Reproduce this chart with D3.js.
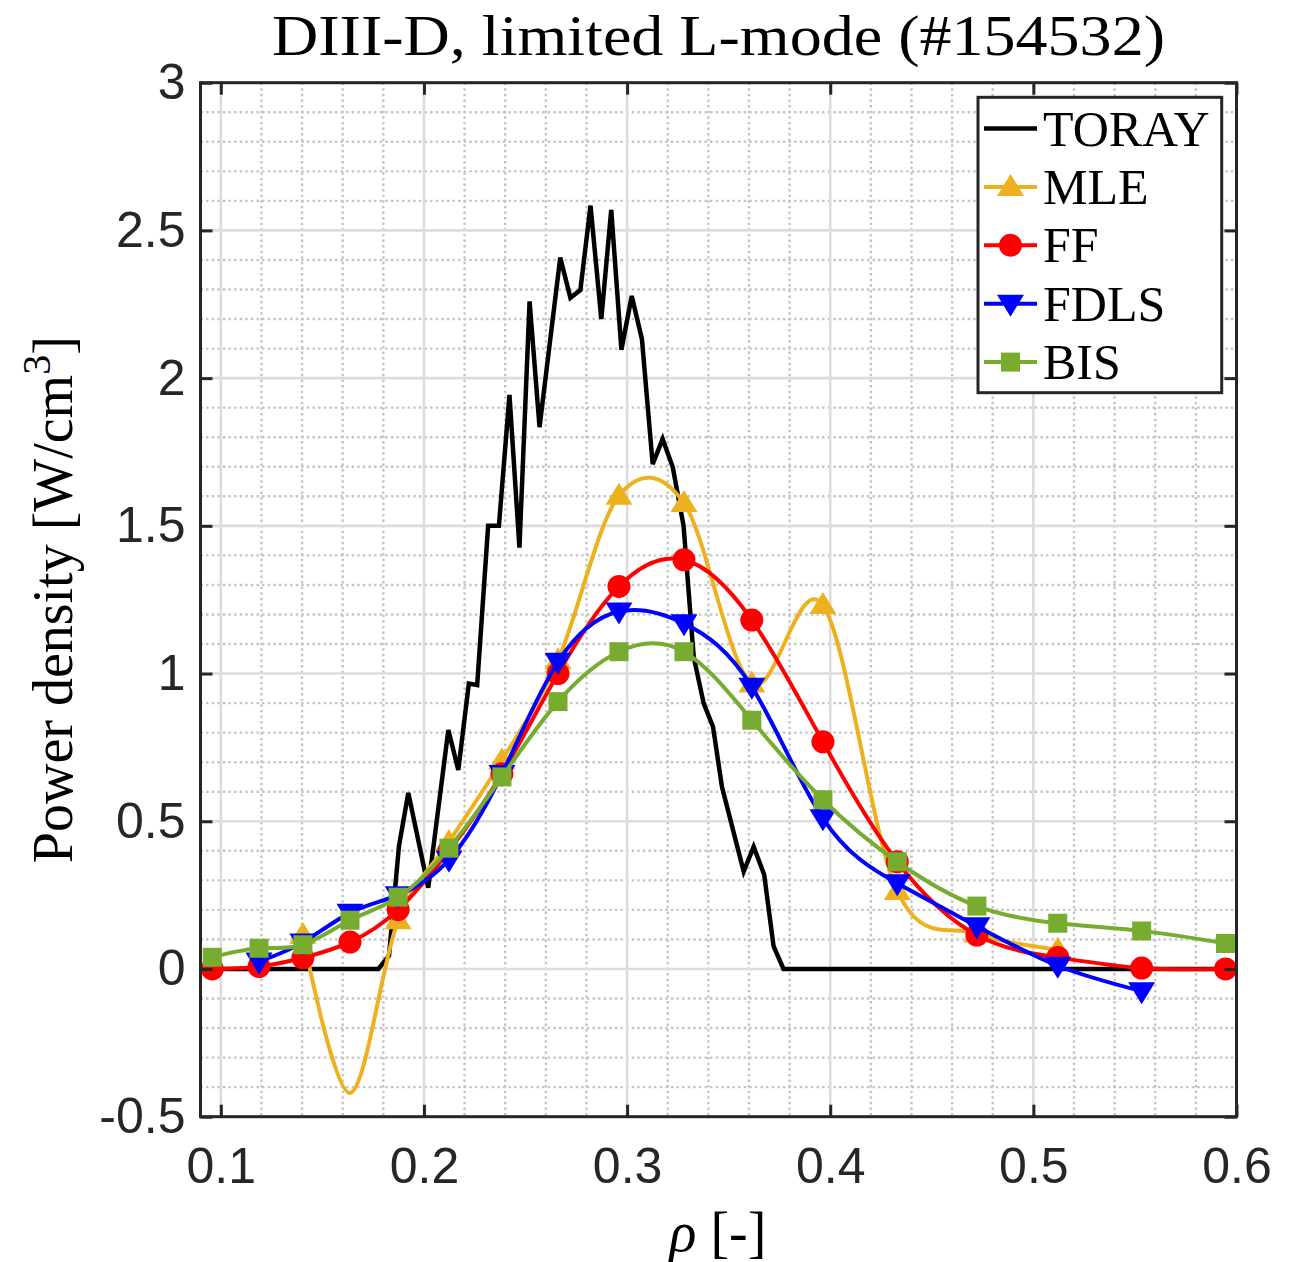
<!DOCTYPE html>
<html><head><meta charset="utf-8">
<script src="https://cdn.jsdelivr.net/npm/d3@7"></script>
<style>body{margin:0;background:#fff}</style>
</head><body>
<svg id="c" width="1289" height="1262"></svg>
<script>
// ---------- data ----------
const rho  = [0.0958,0.1188,0.1404,0.1636,0.1873,0.2123,0.2384,0.2660,0.2960,0.3280,0.3614,0.3964,0.4330,0.4722,0.5120,0.5533,0.5946];
const mleValues  = [null,null,0.115,-0.42,0.165,0.43,0.706,1.045,1.602,1.577,0.966,1.232,0.264,0.12,0.065,null,null];
const mleMarker  = [false,false,true,false,true,true,true,true,true,true,true,true,true,true,true,false,false];
const ffValues   = [0.0,0.008,0.038,0.091,0.201,0.40,0.661,1.0,1.295,1.385,1.181,0.769,0.363,0.115,0.039,0.003,0.0];
const fdlsValues = [null,0.025,0.09,0.19,0.25,0.37,0.66,1.04,1.21,1.17,0.955,0.51,0.29,0.145,0.011,-0.075,null];
const bisValues  = [0.04,0.07,0.082,0.165,0.243,0.409,0.65,0.905,1.074,1.074,0.842,0.573,0.363,0.213,0.155,0.129,0.0865];

const torayRho = [0.09,0.1776,0.1828,0.1877,0.1923,0.2021,0.212,0.2169,0.2221,0.2262,0.2316,0.2369,0.2421,0.2470,0.252,0.2569,0.2671,0.2721,0.277,0.282,0.2873,0.2922,0.2972,0.3023,0.3073,0.3126,0.3175,0.3225,0.3278,0.3328,0.3377,0.3423,0.3467,0.3574,0.3623,0.3675,0.3721,0.377,0.6];
const torayValues = [0,0,0.045,0.416,0.596,0.275,0.809,0.674,0.966,0.961,1.5,1.5,1.943,1.426,2.26,1.834,2.408,2.272,2.298,2.584,2.2,2.569,2.096,2.278,2.132,1.709,1.794,1.698,1.5,1.056,0.899,0.82,0.617,0.33,0.414,0.319,0.077,0,0];

const xTickValues = [0.1,0.2,0.3,0.4,0.5,0.6];
const xTickLabels = ["0.1","0.2","0.3","0.4","0.5","0.6"];
const yTickValues = [-0.5,0,0.5,1,1.5,2,2.5,3];
const yTickLabels = ["-0.5","0","0.5","1","1.5","2","2.5","3"];
const xMinorValues = [0.12,0.14,0.16,0.18,0.22,0.24,0.26,0.28,0.32,0.34,0.36,0.38,0.42,0.44,0.46,0.48,0.52,0.54,0.56,0.58];
const yMinorValues = [-0.4,-0.3,-0.2,-0.1,0.1,0.2,0.3,0.4,0.6,0.7,0.8,0.9,1.1,1.2,1.3,1.4,1.6,1.7,1.8,1.9,2.1,2.2,2.3,2.4,2.6,2.7,2.8,2.9];

const seriesNames = ["TORAY","MLE","FF","FDLS","BIS"];
const titleText = "DIII-D, limited L-mode (#154532)";

// ---------- layout ----------
const m = {l:200.5, r:1236.5, t:82.7, b:1116.7};
const svg = d3.select("#c");
const x = d3.scaleLinear().domain([0.09,0.6]).range([m.l,m.r]);
const y = d3.scaleLinear().domain([-0.5,3]).range([m.b,m.t]);
const axisColor = "#262626";

svg.append("rect").attr("width",1289).attr("height",1262).attr("fill","#fff");
svg.append("defs").append("clipPath").attr("id","clip")
  .append("rect").attr("x",m.l).attr("y",m.t).attr("width",m.r-m.l).attr("height",m.b-m.t);

// grid
const grid = svg.append("g");
grid.selectAll(".vxm").data(xMinorValues).join("line")
  .attr("x1",d=>x(d)).attr("x2",d=>x(d)).attr("y1",m.t).attr("y2",m.b)
  .attr("stroke","#c4c4c4").attr("stroke-width",2.4).attr("stroke-dasharray","2.4,3.2");
grid.selectAll(".hym").data(yMinorValues).join("line")
  .attr("y1",d=>y(d)).attr("y2",d=>y(d)).attr("x1",m.l).attr("x2",m.r)
  .attr("stroke","#c4c4c4").attr("stroke-width",2.4).attr("stroke-dasharray","2.4,3.2");
grid.selectAll(".vx").data(xTickValues).join("line")
  .attr("x1",d=>x(d)).attr("x2",d=>x(d)).attr("y1",m.t).attr("y2",m.b)
  .attr("stroke","#dcdcdc").attr("stroke-width",2.6);
grid.selectAll(".hy").data(yTickValues).join("line")
  .attr("y1",d=>y(d)).attr("y2",d=>y(d)).attr("x1",m.l).attr("x2",m.r)
  .attr("stroke","#dcdcdc").attr("stroke-width",2.6);

// series
const plot = svg.append("g").attr("clip-path","url(#clip)");
const torayPts = torayRho.map((r,i)=>({x:r,v:torayValues[i]}));
plot.append("path").datum(torayPts)
  .attr("d", d3.line().x(d=>x(d.x)).y(d=>y(d.v)))
  .attr("fill","none").attr("stroke","#000").attr("stroke-width",4.5).attr("stroke-linejoin","miter");

function markerPath(type){
  if(type==="up") return "M0,-13 L13.5,9 L-13.5,9 Z";
  if(type==="down") return "M0,13 L13.5,-9 L-13.5,-9 Z";
  if(type==="square") return "M-9.5,-9.5 H9.5 V9.5 H-9.5 Z";
  return null;
}
const series = [
  {name:"MLE", vals:mleValues, show:mleMarker, color:"#EDB120", marker:"up", curve:d3.curveCatmullRom.alpha(0)},
  {name:"FF", vals:ffValues, show:ffValues.map(v=>v!=null), color:"#FF0000", marker:"circle", curve:d3.curveNatural},
  {name:"FDLS", vals:fdlsValues, show:fdlsValues.map(v=>v!=null), color:"#0000FF", marker:"down", curve:d3.curveNatural},
  {name:"BIS", vals:bisValues, show:bisValues.map(v=>v!=null), color:"#77AC30", marker:"square", curve:d3.curveNatural}
];
function drawMarker(g, type, color, cx, cy){
  if(type==="circle") g.append("circle").attr("cx",cx).attr("cy",cy).attr("r",11.5).attr("fill",color);
  else g.append("path").attr("d",markerPath(type)).attr("transform",`translate(${cx},${cy})`).attr("fill",color);
}
series.forEach(s=>{
  const pts = rho.map((r,i)=>({x:r,v:s.vals[i],show:s.show[i]}));
  const valid = pts.filter(d=>d.v!=null);
  const line = d3.line().x(d=>x(d.x)).y(d=>y(d.v)).curve(s.curve);
  plot.append("path").datum(valid).attr("d",line)
    .attr("fill","none").attr("stroke",s.color).attr("stroke-width",4);
  const mg = plot.append("g");
  valid.filter(d=>d.show).forEach(d=>drawMarker(mg,s.marker,s.color,x(d.x),y(d.v)));
});

// axes
const tickFont = "'Liberation Sans', Arial, Helvetica, sans-serif";
const xa = svg.append("g").attr("transform",`translate(0,${m.b})`)
  .call(d3.axisBottom(x).tickValues(xTickValues).tickFormat((d,i)=>xTickLabels[i]).tickSizeInner(-12).tickSizeOuter(0).tickPadding(31));
const xt = svg.append("g").attr("transform",`translate(0,${m.t})`)
  .call(d3.axisTop(x).tickValues(xTickValues).tickFormat("").tickSizeInner(-12).tickSizeOuter(0));
const ya = svg.append("g").attr("transform",`translate(${m.l},0)`)
  .call(d3.axisLeft(y).tickValues(yTickValues).tickFormat((d,i)=>yTickLabels[i]).tickSizeInner(-12).tickSizeOuter(0).tickPadding(15));
const yr = svg.append("g").attr("transform",`translate(${m.r},0)`)
  .call(d3.axisRight(y).tickValues(yTickValues).tickFormat("").tickSizeInner(-12).tickSizeOuter(0));
[xa,xt,ya,yr].forEach(g=>{
  g.select(".domain").remove();
  g.selectAll(".tick line").attr("stroke",axisColor).attr("stroke-width",3);
  g.selectAll("text").attr("font-family",tickFont).attr("font-size",50).attr("fill",axisColor);
});
svg.append("rect").attr("x",m.l).attr("y",m.t).attr("width",m.r-m.l).attr("height",m.b-m.t)
  .attr("fill","none").attr("stroke",axisColor).attr("stroke-width",3);

// texts
const serif = "'Liberation Serif', 'Times New Roman', serif";
svg.append("text").attr("x",(272+1165)/2).attr("y",55).attr("text-anchor","middle")
  .attr("font-family",serif).attr("font-size",56).attr("fill","#000")
  .attr("textLength",893).attr("lengthAdjust","spacingAndGlyphs").text(titleText);

const xl = svg.append("text").attr("x",718).attr("y",1251).attr("text-anchor","middle")
  .attr("font-family",serif).attr("font-size",56).attr("fill","#000");
xl.append("tspan").attr("font-style","italic").text("ρ");
xl.append("tspan").text(" [-]");

const yl = svg.append("text").attr("transform",`translate(72,${(m.t+m.b)/2}) rotate(-90)`)
  .attr("text-anchor","middle").attr("font-family",serif).attr("font-size",56).attr("fill","#000");
yl.append("tspan").text("Power density [W/cm");
yl.append("tspan").attr("font-size",40).attr("dy",-22).text("3");
yl.append("tspan").attr("dy",22).text("]");

// legend
const lg = svg.append("g");
lg.append("rect").attr("x",978).attr("y",97.3).attr("width",243.7).attr("height",295.4)
  .attr("fill","#fff").attr("stroke",axisColor).attr("stroke-width",3);
const legendColors = ["#000","#EDB120","#FF0000","#0000FF","#77AC30"];
const legendMarkers = [null,"up","circle","down","square"];
seriesNames.forEach((n,i)=>{
  const cy = 128.5 + i*58.4;
  lg.append("line").attr("x1",984).attr("x2",1037).attr("y1",cy).attr("y2",cy)
    .attr("stroke",legendColors[i]).attr("stroke-width",i===0?4.5:4);
  if(legendMarkers[i]) drawMarker(lg,legendMarkers[i],legendColors[i],1010.5,cy);
  lg.append("text").attr("x",1043).attr("y",cy+17).attr("font-family",serif)
    .attr("font-size",50).attr("fill","#000").text(n);
});
</script>
</body></html>
